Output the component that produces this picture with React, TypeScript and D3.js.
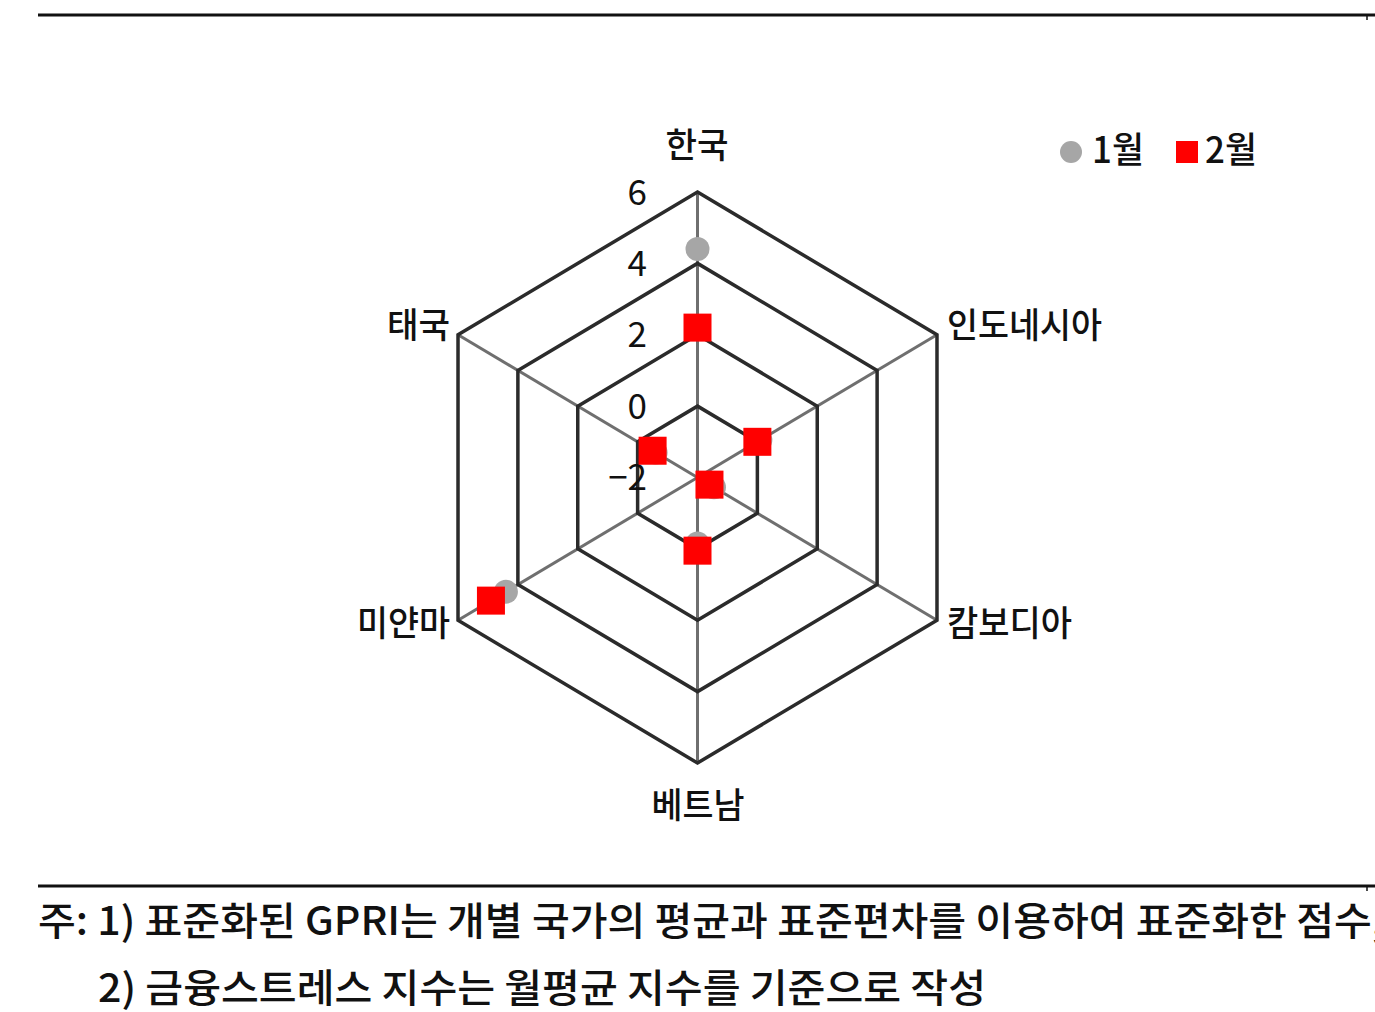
import React, { useEffect, useRef } from 'react';
import * as d3 from 'd3';

const width = 1375;
const height = 1012;

const countries = ['한국', '인도네시아', '캄보디아', '베트남', '미얀마', '태국'];
const jan = [4.4, 0.1, -1.45, -0.15, 4.4, -0.6];
const feb = [2.2, 0.0, -1.6, 0.05, 4.9, -0.5];
const ticks = [-2, 0, 2, 4, 6];
const seriesNames = ['1월', '2월'];
const notes = [
  '주: 1) 표준화된 GPRI는 개별 국가의 평균과 표준편차를 이용하여 표준화한 점수,',
  '2) 금융스트레스 지수는 월평균 지수를 기준으로 작성',
];

const font = '"Noto Sans CJK KR", "Noto Sans", sans-serif';

const App: React.FC = () => {
  const ref = useRef<SVGSVGElement>(null);

  useEffect(() => {
    if (!ref.current) return;
    const svg = d3.select(ref.current);
    svg.selectAll('*').remove();

    const cx = 697.5;
    const cy = 477.5;
    const xSquash = 0.9686; // picture is a bit narrower than tall
    const r = d3.scaleLinear().domain([-2, 6]).range([0, 285.5]);
    const angle = d3
      .scaleLinear()
      .domain([0, countries.length])
      .range([0, 2 * Math.PI]);

    const pos = (i: number, v: number): [number, number] => {
      const a = angle(i);
      return [cx + r(v) * Math.sin(a) * xSquash, cy - r(v) * Math.cos(a)];
    };

    // frame lines
    [15, 886].forEach(y => {
      svg.append('line').attr('x1', 38).attr('x2', width).attr('y1', y).attr('y2', y)
        .attr('stroke', '#111').attr('stroke-width', 3);
      svg.append('line').attr('x1', 1367).attr('x2', 1367).attr('y1', y).attr('y2', y + 5)
        .attr('stroke', '#111').attr('stroke-width', 1.5);
    });

    // spokes
    const g = svg.append('g');
    countries.forEach((_, i) => {
      const [x, y] = pos(i, 6);
      g.append('line').attr('x1', cx).attr('y1', cy).attr('x2', x).attr('y2', y)
        .attr('stroke', '#6f6f6f').attr('stroke-width', 3);
    });

    // rings
    ticks.slice(1).forEach(t => {
      const pts = countries.map((_, i) => pos(i, t));
      g.append('path')
        .attr('d', d3.line()(pts) + 'Z')
        .attr('fill', 'none')
        .attr('stroke', '#2b2b2b')
        .attr('stroke-width', 3.5)
        .attr('stroke-linejoin', 'miter');
    });

    // tick labels
    ticks.forEach(t => {
      const [, y] = pos(0, t);
      svg.append('text')
        .attr('x', 647)
        .attr('y', y)
        .attr('dy', '0.36em')
        .attr('text-anchor', 'end')
        .attr('font-family', font)
        .attr('font-size', 35)
        .attr('fill', '#111')
        .text(t < 0 ? '−' + Math.abs(t) : String(t));
    });

    // category labels
    const labelPos = [
      { x: 697, y: 145, anchor: 'middle', w: 63 },
      { x: 947, y: 325, anchor: 'start', w: 155 },
      { x: 947, y: 623, anchor: 'start', w: 125 },
      { x: 698, y: 805, anchor: 'middle', w: 93 },
      { x: 450, y: 623, anchor: 'end', w: 93 },
      { x: 450, y: 325, anchor: 'end', w: 63 },
    ];
    countries.forEach((c, i) => {
      const p = labelPos[i];
      svg.append('text')
        .attr('x', p.x)
        .attr('y', p.y)
        .attr('dy', '0.36em')
        .attr('text-anchor', p.anchor)
        .attr('font-family', font)
        .attr('font-size', 35)
        .attr('font-weight', 500)
        .attr('fill', '#111')
        .attr('textLength', p.w)
        .attr('lengthAdjust', 'spacingAndGlyphs')
        .text(c);
    });

    // series markers
    jan.forEach((v, i) => {
      const [x, y] = pos(i, v);
      svg.append('circle').attr('cx', x).attr('cy', y).attr('r', 12).attr('fill', '#a6a6a6');
    });
    const sq = 28;
    feb.forEach((v, i) => {
      const [x, y] = pos(i, v);
      svg.append('rect').attr('x', x - sq / 2).attr('y', y - sq / 2)
        .attr('width', sq).attr('height', sq).attr('fill', '#ff0000');
    });

    // legend
    svg.append('circle').attr('cx', 1071).attr('cy', 152).attr('r', 11).attr('fill', '#a6a6a6');
    svg.append('rect').attr('x', 1176).attr('y', 141).attr('width', 22).attr('height', 22).attr('fill', '#ff0000');
    [1092, 1205].forEach((x, i) => {
      svg.append('text')
        .attr('x', x)
        .attr('y', 150)
        .attr('dy', '0.36em')
        .attr('font-family', font)
        .attr('font-size', 36)
        .attr('font-weight', 500)
        .attr('fill', '#111')
        .attr('textLength', 52)
        .attr('lengthAdjust', 'spacingAndGlyphs')
        .text(seriesNames[i]);
    });

    // notes
    const noteLayout = [
      { x: 38, y: 921, w: 1346 },
      { x: 98, y: 988, w: 888 },
    ];
    notes.forEach((n, i) => {
      const p = noteLayout[i];
      svg.append('text')
        .attr('x', p.x)
        .attr('y', p.y)
        .attr('dy', '0.36em')
        .attr('font-family', font)
        .attr('font-size', 39)
        .attr('font-weight', 500)
        .attr('fill', '#111')
        .attr('textLength', p.w)
        .attr('lengthAdjust', 'spacingAndGlyphs')
        .text(n);
    });
  }, []);

  return (
    <div style={{ position: 'absolute', top: 0, left: 0, background: '#fff' }}>
      <svg ref={ref} width={width} height={height} style={{ display: 'block' }} />
    </div>
  );
};

export default App;
